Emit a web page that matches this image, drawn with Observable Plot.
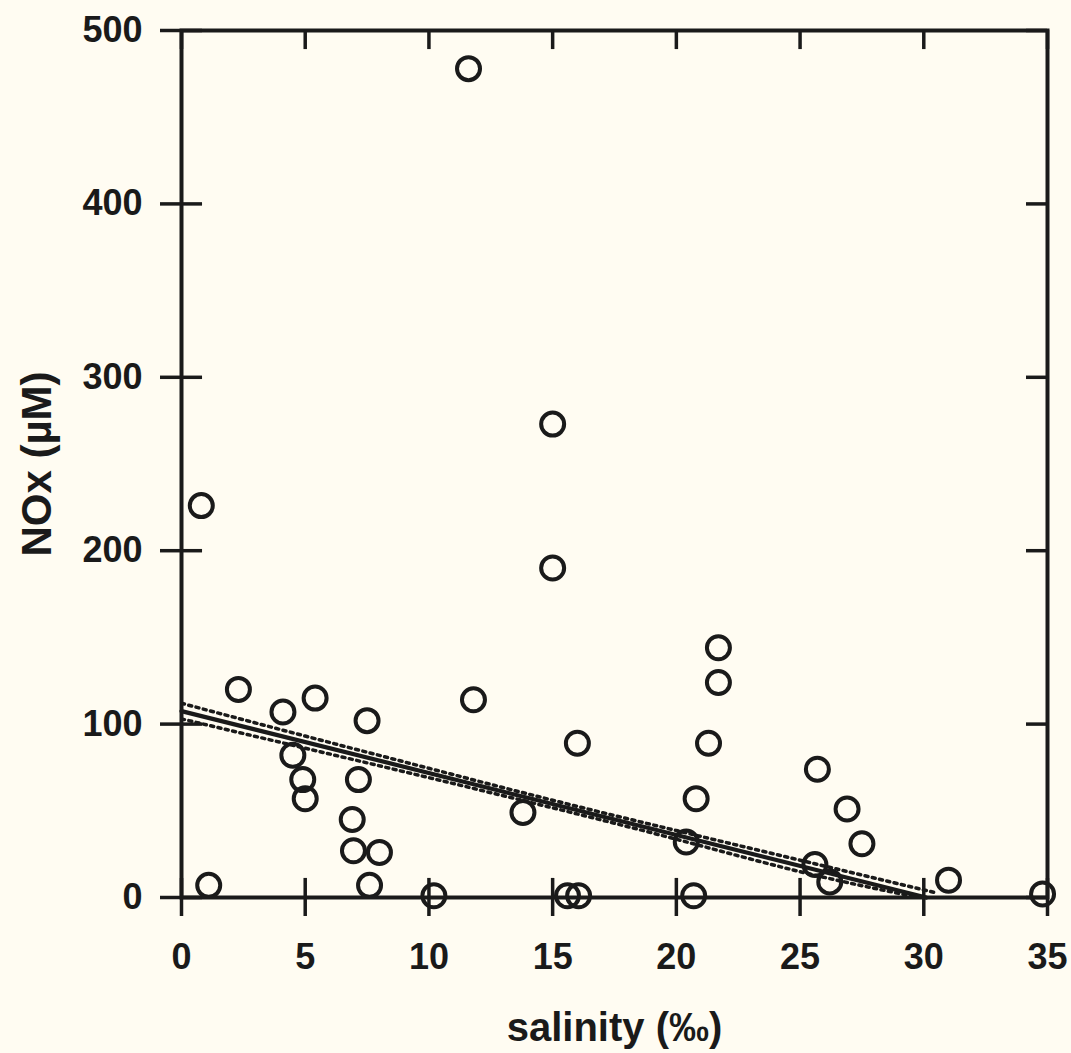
<!DOCTYPE html>
<html>
<head>
<meta charset="utf-8">
<script src="https://cdn.jsdelivr.net/npm/d3@7"></script>
<script src="https://cdn.jsdelivr.net/npm/@observablehq/plot@0.6"></script>
<style>
html, body { margin: 0; padding: 0; background: #fffcf2; }
#chart svg { display: block; }
</style>
</head>
<body>
<div id="chart"></div>
<script>
// Observations: salinity (‰) and NOx (µM)
const salinity = [0.8, 1.1, 2.3, 4.1, 4.5, 4.9, 5.0, 5.4, 6.9, 6.95, 7.15, 7.5, 7.6, 8.0, 10.2,
                  11.6, 11.8, 13.8, 15.0, 15.0, 15.6, 16.05, 16.0, 20.4, 20.7, 20.8, 21.3, 21.7, 21.7,
                  25.7, 25.6, 26.2, 26.9, 27.5, 31.0, 34.8];
const nox      = [226, 7, 120, 107, 82, 68, 57, 115, 45, 27, 68, 102, 7, 26, 1,
                  478, 114, 49, 273, 190, 1, 1, 89, 32, 1, 57, 89, 144, 124,
                  74, 19, 9, 51, 31, 10, 2];

// Regression line (two end points)
const fitX = [0, 30.1];
const fitY = [107.5, 0];

// Confidence band curves (dotted)
const upperX = [0, 5, 10, 15, 20, 25, 30.4];
const upperY = [112, 93.1, 74.5, 56.1, 38.6, 21.5, 3];
const lowerX = [0, 5, 10, 15, 20, 25, 29.8];
const lowerY = [103, 86.1, 69.1, 51.7, 33.6, 14.9, 0];

// Tick values
const xTicks = [0, 5, 10, 15, 20, 25, 30, 35];
const yTicks = [0, 100, 200, 300, 400, 500];

const xTitle = "salinity (‰)";
const yTitle = "NOx (µM)";

const ink = "#1a1a1a";
const font = "'Liberation Sans', Arial, Helvetica, sans-serif";

const points = salinity.map((s, i) => ({s, n: nox[i]}));
const fit = fitX.map((x, i) => ({x, y: fitY[i]}));
const upper = upperX.map((x, i) => ({x, y: upperY[i]}));
const lower = lowerX.map((x, i) => ({x, y: lowerY[i]}));

const chart = Plot.plot({
  width: 1071,
  height: 1053,
  marginLeft: 181,
  marginRight: 24,
  marginTop: 30,
  marginBottom: 156,
  style: {background: "#fffcf2", fontFamily: font, color: ink, overflow: "visible"},
  x: {domain: [0, 35]},
  y: {domain: [0, 500]},
  marks: [
    // inward ticks
    Plot.ruleX(xTicks, {x: d => d, y1: 0, y2: 11, stroke: ink, strokeWidth: 3.5}),
    Plot.ruleX(xTicks, {x: d => d, y1: 500, y2: 489, stroke: ink, strokeWidth: 3.5}),
    Plot.ruleY(yTicks, {y: d => d, x1: 0, x2: 0.85, stroke: ink, strokeWidth: 3.5}),
    Plot.ruleY(yTicks, {y: d => d, x1: 35, x2: 34.15, stroke: ink, strokeWidth: 3.5}),
    // axes with outward ticks
    Plot.axisX(xTicks, {tickSize: 19, tickPadding: 27, strokeWidth: 3.5, stroke: ink, fill: ink,
      fontSize: 36, fontWeight: "bold", label: null}),
    Plot.axisY(yTicks, {tickSize: 21, tickPadding: 18, strokeWidth: 3.5, stroke: ink, fill: ink,
      fontSize: 36, fontWeight: "bold", label: null}),
    // confidence band (dotted)
    Plot.line(upper, {x: "x", y: "y", curve: "natural", stroke: ink, strokeWidth: 3.5, strokeDasharray: "3,4.5", clip: true}),
    Plot.line(lower, {x: "x", y: "y", curve: "natural", stroke: ink, strokeWidth: 3.5, strokeDasharray: "3,4.5", clip: true}),
    // regression line
    Plot.line(fit, {x: "x", y: "y", stroke: ink, strokeWidth: 4.2}),
    // data
    Plot.dot(points, {x: "s", y: "n", r: 11.5, stroke: ink, strokeWidth: 4, fill: "none"}),
    // frame
    Plot.frame({stroke: ink, strokeWidth: 4}),
    // axis titles
    Plot.text([xTitle], {frameAnchor: "bottom", dy: 143, lineAnchor: "bottom", textAnchor: "middle",
      fontSize: 40, fontWeight: "bold", fill: ink}),
    Plot.text([yTitle], {frameAnchor: "left", dx: -131, rotate: -90, lineAnchor: "bottom", textAnchor: "middle",
      fontSize: 42, fontWeight: "bold", fill: ink})
  ]
});

document.getElementById("chart").appendChild(chart);
</script>
</body>
</html>
